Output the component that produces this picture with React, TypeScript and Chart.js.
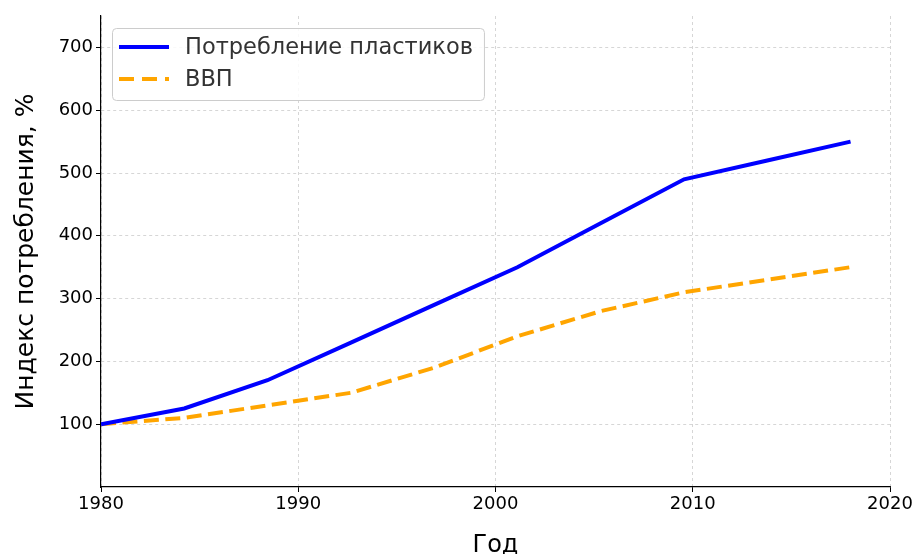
import React, { useEffect, useRef } from "react";
import { Chart, registerables } from "chart.js";

Chart.register(...registerables);

const years = [1980, 1984.22, 1988.44, 1992.67, 1996.89, 2001.11, 2005.33, 2009.56, 2013.78, 2018];
const plastic = [100, 125, 170, 230, 290, 350, 420, 490, 520, 550];
const gdp = [100, 110, 130, 150, 190, 240, 280, 310, 330, 350];
const yTicks = [100, 200, 300, 400, 500, 600, 700];
const seriesNames = ["Потребление пластиков", "ВВП"];
const xTitle = "Год";
const yTitle = "Индекс потребления, %";

const FONT = "'DejaVu Sans', sans-serif";

const insideLegend = {
  id: "insideLegend",
  afterDraw(chart: any) {
    const { ctx, chartArea } = chart;
    const x = chartArea.left + 11;
    const y = chartArea.top + 12;
    ctx.save();
    ctx.font = `22.5px ${FONT}`;
    const tw = Math.max(...seriesNames.map((s) => ctx.measureText(s).width));
    const w = 73 + tw + 11;
    const h = 72;
    ctx.beginPath();
    ctx.roundRect(x + 0.5, y + 0.5, w, h, 4);
    ctx.fillStyle = "rgba(255,255,255,0.85)";
    ctx.fill();
    ctx.strokeStyle = "#cccccc";
    ctx.lineWidth = 1;
    ctx.stroke();
    const rows = [
      { color: "#0000ff", dash: [] as number[], yy: y + 19 },
      { color: "#ffa500", dash: [15, 8], yy: y + 51 },
    ];
    rows.forEach((r, i) => {
      ctx.beginPath();
      ctx.setLineDash(r.dash);
      ctx.strokeStyle = r.color;
      ctx.lineWidth = 4;
      ctx.moveTo(x + 7, r.yy);
      ctx.lineTo(x + 57, r.yy);
      ctx.stroke();
      ctx.setLineDash([]);
      ctx.fillStyle = "#333333";
      ctx.textBaseline = "middle";
      ctx.textAlign = "left";
      ctx.fillText(seriesNames[i], x + 73, r.yy + 1);
    });
    ctx.restore();
  },
};

export default function App() {
  const ref = useRef<HTMLCanvasElement>(null);
  useEffect(() => {
    if (!ref.current) return;
    const chart = new Chart(ref.current, {
      type: "line",
      data: {
        datasets: [
          {
            label: seriesNames[0],
            data: years.map((x, i) => ({ x, y: plastic[i] })),
            borderColor: "#0000ff",
            borderWidth: 4,
            pointRadius: 0,
            tension: 0,
          },
          {
            label: seriesNames[1],
            data: years.map((x, i) => ({ x, y: gdp[i] })),
            borderColor: "#ffa500",
            borderWidth: 4,
            borderDash: [15, 6.5],
            pointRadius: 0,
            tension: 0,
          },
        ],
      },
      options: {
        animation: false,
        responsive: false,
        devicePixelRatio: 1,
        layout: { padding: { left: 0, right: 27, top: 16, bottom: 0 } },
        plugins: { legend: { display: false }, tooltip: { enabled: false } },
        scales: {
          x: {
            type: "linear",
            min: 1980,
            max: 2020,
            ticks: {
              stepSize: 10,
              color: "#000",
              font: { family: FONT, size: 18 },
              padding: 2,
              maxRotation: 0,
              callback: (v: any) => String(v),
            },
            grid: { color: "#cccccc", lineWidth: 0.8, tickColor: "#000", tickLength: 5, tickWidth: 1 },
            border: { color: "#000", width: 1.2, dash: [3, 3] },
            title: { display: true, text: xTitle, color: "#000", font: { family: FONT, size: 24 }, padding: { top: 14, bottom: -6 } },
            afterFit: (s: any) => { s.height = 67; },
          },
          y: {
            type: "linear",
            min: 0,
            max: 750,
            afterBuildTicks: (s: any) => { s.ticks = yTicks.map((v) => ({ value: v })); },
            ticks: { color: "#000", font: { family: FONT, size: 18 }, padding: 3 },
            grid: { color: "#cccccc", lineWidth: 0.8, tickColor: "#000", tickLength: 5, tickWidth: 1 },
            border: { color: "#000", width: 1.2, dash: [3, 3] },
            title: { display: true, text: yTitle, color: "#000", font: { family: FONT, size: 25 }, padding: { top: 11, bottom: 0 } },
            afterFit: (s: any) => { s.width = 101; },
          },
        },
      },
      plugins: [insideLegend],
    } as any);
    return () => chart.destroy();
  }, []);
  return (
    <div style={{ position: "absolute", left: 0, top: 0, width: 917, height: 554, background: "#fff" }}>
      <canvas ref={ref} width={917} height={554} />
    </div>
  );
}
